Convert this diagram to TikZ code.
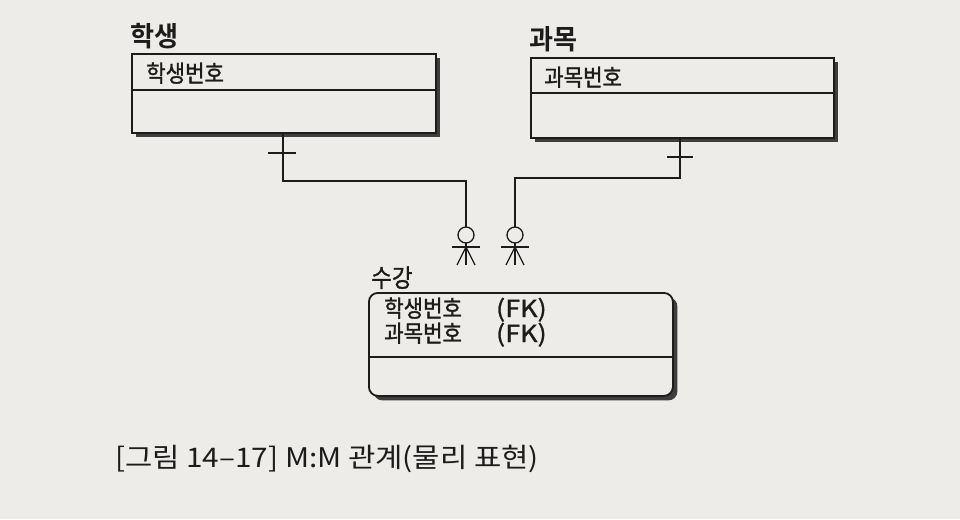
\documentclass[tikz,border=0pt]{standalone}
\usepackage{fontspec}
\setmainfont{Noto Sans CJK KR}
\newfontfamily\capfont[FakeStretch=1.1]{Noto Sans CJK KR}
\newfontfamily\attrfont[FakeBold=1.2,FakeStretch=0.9]{Noto Sans CJK KR}
\newfontfamily\fkfont[FakeBold=1.2,FakeStretch=1.15]{Noto Sans CJK KR}
\newfontfamily\labfont[FakeStretch=0.95]{Noto Sans CJK KR Bold}
\usetikzlibrary{shadows}
\definecolor{paper}{HTML}{EEECE8}
\definecolor{ink}{HTML}{1C1C1C}
\begin{document}
\begin{tikzpicture}[x=1pt,y=-1pt,
  entity/.style={draw=ink,line width=1.8pt,fill=paper,inner sep=0pt,anchor=north west,
    drop shadow={shadow xshift=4.5pt,shadow yshift=-4.5pt,fill=ink!85,opacity=1}},
  divider/.style={draw=ink,line width=1.6pt},
  conn/.style={draw=ink,line width=1.3pt},
  ename/.style={inner sep=0pt,anchor=base west,font=\labfont\fontsize{27.5}{29}\selectfont,text=ink},
  attr/.style={inner sep=0pt,anchor=base west,font=\attrfont\fontsize{23.5}{25}\selectfont,text=ink}]
\fill[paper] (0,0) rectangle (960,519);
\useasboundingbox (0,0) rectangle (960,519);

% entities
\node[entity,minimum width=304pt,minimum height=79pt] (st) at (131,53) {};
\node[entity,minimum width=303pt,minimum height=80pt] (cr) at (530,57) {};
\node[entity,rounded corners=9pt,minimum width=304pt,minimum height=103pt] (en) at (368,292) {};

\draw[divider] (131,90) -- (435,90);
\draw[divider] (530,93) -- (833,93);
\draw[divider] (368,357) -- (672,357);

% labels
\node[ename] (stn) at (130,46) {학생};
\node[ename] (crn) at (529,49) {과목};
\node[attr,font=\attrfont\fontsize{25}{27}\selectfont] (enn) at (371,287) {수강};
\node[attr] (sta) at (146,82) {학생번호};
\node[attr] (cra) at (544,86) {과목번호};
\node[attr] (ena) at (384,317) {학생번호\hspace{34pt}{\fkfont(FK)}};
\node[attr] (enb) at (384,342) {과목번호\hspace{34pt}{\fkfont(FK)}};

% connector 학생 -> 수강
\coordinate (s1) at (283,132);
\coordinate (s2) at (466,227);
\draw[conn] (s1) |- (466,181) -- (s2);
\draw[conn] (268,153) -- (296,153);
\draw[conn] (466,235) circle (8);
\draw[conn] (466,243) -- (466,265);
\draw[conn] (452,247) -- (480,247);
\draw[conn] (457,265) -- (466,247) -- (475,265);

% connector 과목 -> 수강
\coordinate (c1) at (680,137);
\coordinate (c2) at (515,227);
\draw[conn] (c1) |- (515,178) -- (c2);
\draw[conn] (667,157) -- (693,157);
\draw[conn] (515,235) circle (8);
\draw[conn] (515,243) -- (515,265);
\draw[conn] (501,247) -- (529,247);
\draw[conn] (506,265) -- (515,247) -- (524,265);

% caption
\node[inner sep=0pt,anchor=base west,text=ink,font=\capfont\fontsize{27}{29}\selectfont] (cap) at (115,467) {[그림 14–17] M:M 관계(물리 표현)};
\end{tikzpicture}
\end{document}
